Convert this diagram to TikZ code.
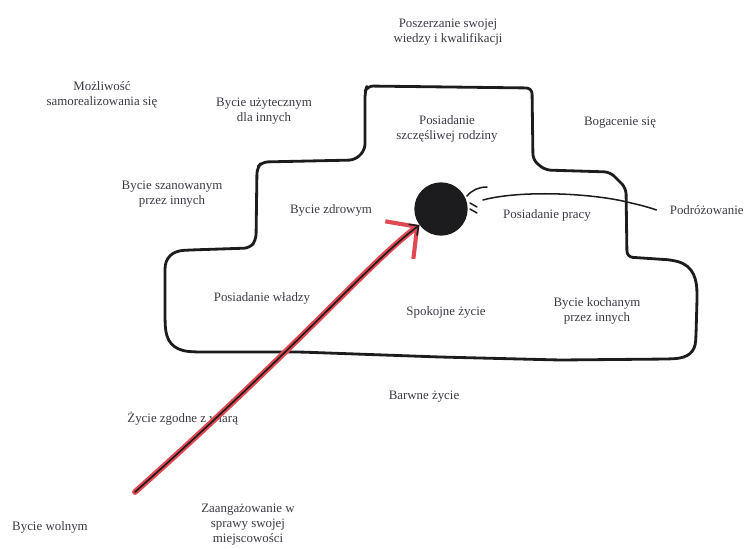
\documentclass[tikz,border=0pt]{standalone}
\usepackage{fontspec}
\setmainfont{Liberation Serif}
\usetikzlibrary{arrows.meta}
\definecolor{inkblack}{RGB}{28,28,30}
\definecolor{printgray}{RGB}{58,58,68}
\definecolor{markerred}{RGB}{226,72,82}

\begin{document}
\begin{tikzpicture}[x=0.03cm,y=-0.03cm,
  lbl/.style={align=center,text=printgray,inner sep=1pt,font=\fontsize{11}{12.8}\selectfont},
  outline/.style={draw=inkblack,line width=2.4pt,line join=round,line cap=round,rounded corners=5pt},
  pen/.style={draw=inkblack,line width=1.3pt,line cap=round}]
\useasboundingbox (0,0) rectangle (745,548);
% the outline
\draw[outline] (365,92) -- (367,86) -- (532,88) -- (533,160) -- (545,170) -- (610,172) -- (626,188)
  -- (627,257) -- (672,260) .. controls (694,266) and (697,280) .. (697,300) -- (696,335)
  .. controls (695,352) and (688,358) .. (668,359) -- (560,360) -- (440,357) -- (300,352) -- (195,352)
  .. controls (172,350) and (166,340) .. (165,320) -- (165,275) .. controls (165,258) and (172,251) .. (190,250)
  -- (250,248) -- (256,240) -- (257,168) -- (262,162) -- (355,160) -- (365,150) -- cycle;
% labels
\node[lbl] (kwal) at (448,32) {Poszerzanie swojej\\wiedzy i kwalifikacji};
\node[lbl] (samo) at (102,95) {Możliwość\\samorealizowania się};
\node[lbl] (uzyt) at (264,111) {Bycie użytecznym\\dla innych};
\node[lbl] (rodz) at (447,129) {Posiadanie\\szczęśliwej rodziny};
\node[lbl] (bogac) at (620,123) {Bogacenie się};
\node[lbl] (szan) at (172,194) {Bycie szanowanym\\przez innych};
\node[lbl] (zdrow) at (331,210) {Bycie zdrowym};
\node[lbl] (praca) at (547,215) {Posiadanie pracy};
\node[lbl,anchor=east] (podr) at (745,210) {Podróżowanie};
\node[lbl] (wladz) at (262,298) {Posiadanie władzy};
\node[lbl] (spok) at (446,312) {Spokojne życie};
\node[lbl] (kochan) at (597,311) {Bycie kochanym\\przez innych};
\node[lbl] (barw) at (424,397) {Barwne życie};
\node[lbl,anchor=west] (wiara) at (126,419) {Życie zgodne z wiarą};
\node[lbl] (wolny) at (50,527) {Bycie wolnym};
\node[lbl] (zaang) at (248,525) {Zaangażowanie w\\sprawy swojej\\miejscowości};
% the dot
\node[circle,fill=inkblack,inner sep=0pt,minimum size=1.6cm] (dot) at (441,209) {};
\draw[pen] (467,196) .. controls (472,190) and (479,187) .. (487,187);
\draw[pen] (470,203) -- (477,207);
\draw[pen] (470,209) -- (477,213);
\draw[pen] ([shift={(15,-9)}]dot.east) .. controls (520,190) and (590,193) .. (627,202)
  .. controls (640,205) and (648,207) .. ([shift={(-12,0)}]podr.west);
% the red arrow
\coordinate (base) at (135,492);
\draw[markerred,line width=5pt,line cap=round,-{Straight Barb[length=19pt,width=40pt,line width=3.5pt]}]
  (base) .. controls (300,345) and (370,262) .. (dot);
\draw[inkblack,line width=1.4pt,line cap=round,-{Straight Barb[length=6pt,width=12pt]}]
  (base) .. controls (300,345) and (370,262) .. (dot);
\end{tikzpicture}
\end{document}
